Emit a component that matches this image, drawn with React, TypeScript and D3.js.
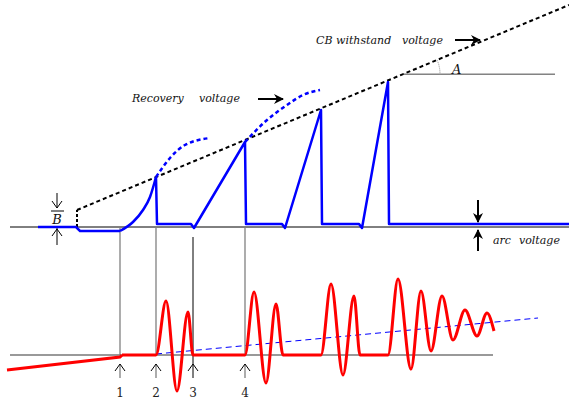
import * as d3 from "d3";
import React from "react";

// upper panel: [x, voltage] (voltage measured up from the upper axis)
const arcLevel = [[38, 0], [76, 0], [80, -4], [120, -4]];
const firstRise = [[120, -4], [133, 5], [143, 17], [150, 30], [156, 50]];
const trv = [
  [156, 50], [157, 3], [191, 3], [194, -1], [245, 85], [246, 3], [282, 3], [285, -1],
  [321, 117], [322, 3], [359, 3], [362, -1], [388, 145], [389, 3], [569, 3],
];
const prospective1 = [[156, 50], [170, 69], [185, 82], [210, 89]];
const prospective2 = [[245, 85], [267, 107], [287, 122], [303, 132], [320, 137]];
const withstand = [[77, 17], [569, 222]];

// lower panel: [x, current]
const preCurrent = [[7, -15], [120, -2], [122, 0]];
const current = [
  [122, 0], [156, 0], [166, 54], [177, -36], [188, 43], [193, 0],
  [245, 0], [254, 63], [266, -28], [276, 51], [283, 0], [321, 0], [331, 71], [343, -20],
  [354, 59], [360, 0], [388, 0], [398, 76], [411, -14], [421, 64], [431, 4], [442, 59],
  [453, 15], [465, 45], [477, 19], [487, 42], [494, 24],
];
const trend = [[156, 1], [538, 37]];

const markers = [120, 156, 193, 245];
const markerLabels = ["1", "2", "3", "4"];

export default function App() {
  const W = 569, H = 399;
  const x = d3.scaleLinear().domain([0, W]).range([0, W]);
  const v = d3.scaleLinear().domain([0, 227]).range([227, 0]);
  const i = d3.scaleLinear().domain([0, 100]).range([355, 255]);

  const vLine = d3.line<number[]>().x((d) => x(d[0])).y((d) => v(d[1]));
  const vCurve = d3.line<number[]>().x((d) => x(d[0])).y((d) => v(d[1])).curve(d3.curveMonotoneX);
  const iCurve = d3.line<number[]>().x((d) => x(d[0])).y((d) => i(d[1])).curve(d3.curveMonotoneX);
  const iLine = d3.line<number[]>().x((d) => x(d[0])).y((d) => i(d[1]));

  // angle A between withstand line and horizontal
  const slope = (withstand[1][1] - withstand[0][1]) / (withstand[1][0] - withstand[0][0]);
  const ang = Math.atan(slope);
  const cx = 403;
  const cy = v(withstand[0][1] + slope * (cx - withstand[0][0]));
  const arcA = d3.arc()({ innerRadius: 37, outerRadius: 37, startAngle: Math.PI / 2 - ang, endAngle: Math.PI / 2 } as any);

  const font = "'DejaVu Serif', serif";
  const it = { fontFamily: font, fontStyle: "italic", fontSize: 11, fill: "#111" } as const;

  const chevron = (px: number, py: number, dir: number) =>
    `M${px - 5},${py + dir * 7}L${px},${py}L${px + 5},${py + dir * 7}`;

  return (
    <svg width={W} height={H} style={{ position: "absolute", left: 0, top: 0, background: "#fff" }}>
      <defs>
        <marker id="ah" viewBox="0 0 10 10" refX="9" refY="5" markerWidth="5" markerHeight="5" orient="auto">
          <path d="M0,0L10,5L0,10L3,5Z" fill="#000" />
        </marker>
      </defs>

      {/* axes */}
      <line x1={10} x2={W} y1={v(0)} y2={v(0)} stroke="#000" strokeWidth={1} />
      <line x1={10} x2={493} y1={i(0)} y2={i(0)} stroke="#777" strokeWidth={1.5} />

      {/* vertical event lines */}
      {markers.map((m, k) => (
        <g key={m}>
          {m === 193 ? (
            <line x1={x(m)} x2={x(m)} y1={237} y2={378} stroke="#000" strokeWidth={1} />
          ) : (
            <>
              <line x1={x(m)} x2={x(m)} y1={v(0)} y2={i(0)} stroke="#808080" strokeWidth={1.3} />
              <line x1={x(m)} x2={x(m)} y1={364} y2={378} stroke="#808080" strokeWidth={1.3} />
            </>
          )}
          <path d={chevron(x(m), 364, 1)} fill="none" stroke="#000" strokeWidth={1} />
          <text x={x(m)} y={397} textAnchor="middle" fontFamily={font} fontSize={12} fill="#222">
            {markerLabels[k]}
          </text>
        </g>
      ))}

      {/* withstand */}
      <line x1={x(77)} x2={x(77)} y1={v(0)} y2={v(17)} stroke="#000" strokeWidth={2} strokeDasharray="3,2" />
      <path d={vLine(withstand)!} fill="none" stroke="#000" strokeWidth={2} strokeDasharray="4,3" />
      <line x1={cx} x2={555} y1={cy} y2={cy} stroke="#444" strokeWidth={1} />
      <path d={arcA!} transform={`translate(${cx},${cy})`} fill="none" stroke="#aaa" strokeWidth={0.8} strokeDasharray="1,1" />
      <text x={452} y={74} {...it} fontSize={13}>A</text>

      {/* recovery voltage */}
      <path d={vLine(arcLevel)!} fill="none" stroke="#0000ff" strokeWidth={2.5} />
      <path d={vCurve(firstRise)!} fill="none" stroke="#0000ff" strokeWidth={2.5} />
      <path d={vLine(trv)!} fill="none" stroke="#0000ff" strokeWidth={2.5} strokeLinejoin="round" />
      <path d={vCurve(prospective1)!} fill="none" stroke="#0000ff" strokeWidth={2.5} strokeDasharray="4,3" />
      <path d={vCurve(prospective2)!} fill="none" stroke="#0000ff" strokeWidth={2.5} strokeDasharray="4,3" />

      {/* current */}
      <path d={iLine(trend)!} fill="none" stroke="#0000ff" strokeWidth={1} strokeDasharray="6,4" />
      <path d={iLine(preCurrent)!} fill="none" stroke="#ff0000" strokeWidth={3} />
      <path d={iCurve(current)!} fill="none" stroke="#ff0000" strokeWidth={3} strokeLinejoin="round" />

      {/* labels */}
      <text x={316} y={44} {...it}>CB withstand</text>
      <text x={402} y={44} {...it}>voltage</text>
      <line x1={455} x2={480} y1={40} y2={40} stroke="#000" strokeWidth={2} markerEnd="url(#ah)" />
      <text x={132} y={102} {...it}>Recovery</text>
      <text x={199} y={102} {...it}>voltage</text>
      <line x1={258} x2={283} y1={99} y2={99} stroke="#000" strokeWidth={2} markerEnd="url(#ah)" />

      {/* arc voltage marker */}
      <line x1={478} x2={478} y1={200} y2={222} stroke="#000" strokeWidth={2} markerEnd="url(#ah)" />
      <line x1={478} x2={478} y1={251} y2={230} stroke="#000" strokeWidth={2} markerEnd="url(#ah)" />
      <text x={493} y={244} {...it}>arc</text>
      <text x={519} y={244} {...it}>voltage</text>

      {/* B marker */}
      <line x1={57} x2={57} y1={193} y2={208} stroke="#000" strokeWidth={1} />
      <path d={chevron(57, 208, -1)} fill="none" stroke="#000" strokeWidth={1} />
      <line x1={51} x2={64} y1={211} y2={211} stroke="#000" strokeWidth={1} />
      <text x={57} y={224} textAnchor="middle" {...it} fontSize={13}>B</text>
      <line x1={57} x2={57} y1={228} y2={245} stroke="#000" strokeWidth={1} />
      <path d={chevron(57, 229, 1)} fill="none" stroke="#000" strokeWidth={1} />
    </svg>
  );
}
